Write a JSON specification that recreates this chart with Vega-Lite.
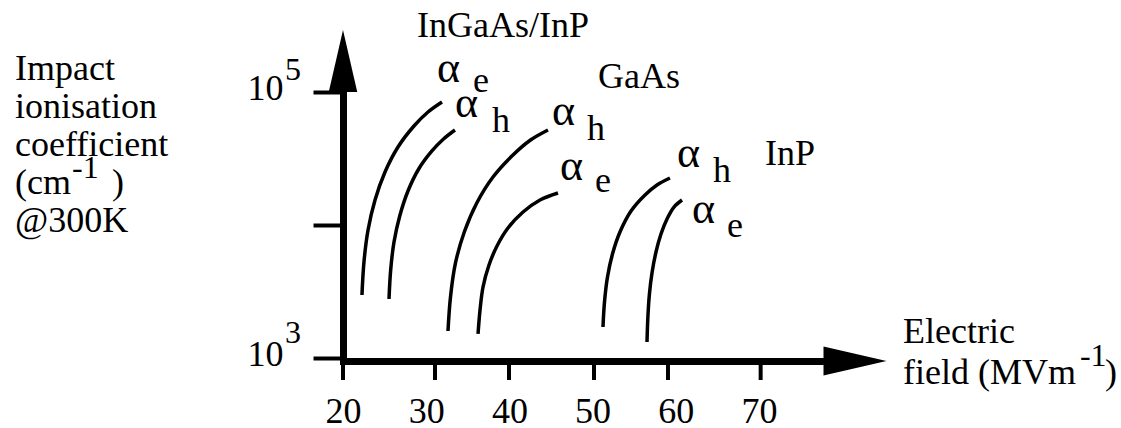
{
  "$schema": "https://vega.github.io/schema/vega-lite/v6.json",
  "autosize": {"type": "none"},
  "width": 512,
  "height": 300,
  "padding": {"left": 343, "top": 61, "right": 266, "bottom": 67},
  "background": "white",
  "config": {
    "font": "Liberation Serif",
    "view": {"stroke": null},
    "axis": {"grid": false}
  },
  "datasets": {
    "curves": [
      {"curve": "InGaAs αe", "x": 22.28, "y": 2977},
      {"curve": "InGaAs αe", "x": 22.52, "y": 5270},
      {"curve": "InGaAs αe", "x": 23.01, "y": 9170},
      {"curve": "InGaAs αe", "x": 23.85, "y": 15420},
      {"curve": "InGaAs αe", "x": 25.05, "y": 25030},
      {"curve": "InGaAs αe", "x": 26.61, "y": 38590},
      {"curve": "InGaAs αe", "x": 28.53, "y": 55510},
      {"curve": "InGaAs αe", "x": 30.22, "y": 70730},
      {"curve": "InGaAs αe", "x": 31.90, "y": 84090},
      {"curve": "InGaAs αh", "x": 25.53, "y": 2777},
      {"curve": "InGaAs αh", "x": 25.73, "y": 4588},
      {"curve": "InGaAs αh", "x": 26.13, "y": 7452},
      {"curve": "InGaAs αh", "x": 26.82, "y": 11690},
      {"curve": "InGaAs αh", "x": 27.81, "y": 18010},
      {"curve": "InGaAs αh", "x": 29.10, "y": 26370},
      {"curve": "InGaAs αh", "x": 30.69, "y": 36010},
      {"curve": "InGaAs αh", "x": 32.08, "y": 44320},
      {"curve": "InGaAs αh", "x": 33.46, "y": 51810},
      {"curve": "GaAs αh", "x": 32.62, "y": 1596},
      {"curve": "GaAs αh", "x": 32.92, "y": 2875},
      {"curve": "GaAs αh", "x": 33.52, "y": 5181},
      {"curve": "GaAs αh", "x": 34.58, "y": 8858},
      {"curve": "GaAs αh", "x": 36.08, "y": 14640},
      {"curve": "GaAs αh", "x": 38.03, "y": 22960},
      {"curve": "GaAs αh", "x": 40.43, "y": 33600},
      {"curve": "GaAs αh", "x": 42.54, "y": 43560},
      {"curve": "GaAs αh", "x": 44.64, "y": 51810},
      {"curve": "GaAs αe", "x": 36.23, "y": 1515},
      {"curve": "GaAs αe", "x": 36.47, "y": 2296},
      {"curve": "GaAs αe", "x": 36.83, "y": 3418},
      {"curve": "GaAs αe", "x": 37.55, "y": 5002},
      {"curve": "GaAs αe", "x": 38.51, "y": 6953},
      {"curve": "GaAs αe", "x": 39.83, "y": 9493},
      {"curve": "GaAs αe", "x": 41.64, "y": 12520},
      {"curve": "GaAs αe", "x": 43.68, "y": 15420},
      {"curve": "GaAs αe", "x": 45.84, "y": 17400},
      {"curve": "InP αh", "x": 51.25, "y": 1711},
      {"curve": "InP αh", "x": 51.43, "y": 2637},
      {"curve": "InP αh", "x": 51.79, "y": 4064},
      {"curve": "InP αh", "x": 52.39, "y": 6053},
      {"curve": "InP αh", "x": 53.29, "y": 8858},
      {"curve": "InP αh", "x": 54.62, "y": 12740},
      {"curve": "InP αh", "x": 56.30, "y": 16810},
      {"curve": "InP αh", "x": 57.74, "y": 19990},
      {"curve": "InP αh", "x": 59.30, "y": 22560},
      {"curve": "InP αe", "x": 56.54, "y": 1319},
      {"curve": "InP αe", "x": 56.64, "y": 1999},
      {"curve": "InP αe", "x": 56.82, "y": 2977},
      {"curve": "InP αe", "x": 57.14, "y": 4357},
      {"curve": "InP αe", "x": 57.62, "y": 6266},
      {"curve": "InP αe", "x": 58.22, "y": 8557},
      {"curve": "InP αe", "x": 59.00, "y": 11290},
      {"curve": "InP αe", "x": 59.78, "y": 13650},
      {"curve": "InP αe", "x": 60.75, "y": 15420}
    ],
    "labels": [
      {"kind": "text", "text": "Impact", "x": -19.42, "y": 123100},
      {"kind": "text", "text": "ionisation", "x": -19.42, "y": 63760},
      {"kind": "text", "text": "coefficient", "x": -19.42, "y": 33020},
      {"kind": "text", "text": "(cm", "x": -19.42, "y": 17110},
      {"kind": "sup", "text": "-1", "x": -12.57, "y": 22560},
      {"kind": "text", "text": ")", "x": -7.76, "y": 17110},
      {"kind": "text", "text": "@300K", "x": -19.42, "y": 8858},
      {"kind": "sup", "text": "5", "x": 13.03, "y": 123100},
      {"kind": "sup", "text": "3", "x": 13.03, "y": 1297},
      {"kind": "text", "text": "InGaAs/InP", "x": 28.89, "y": 259100},
      {"kind": "text", "text": "GaAs", "x": 50.65, "y": 107200},
      {"kind": "text", "text": "InP", "x": 70.72, "y": 28260},
      {"kind": "text", "text": "Electric", "x": 87.31, "y": 1297},
      {"kind": "text", "text": "field (MVm", "x": 87.31, "y": 637.6},
      {"kind": "sup", "text": "-1", "x": 108.58, "y": 870.6},
      {"kind": "text", "text": ")", "x": 111.59, "y": 637.6},
      {"kind": "alpha", "text": "α", "x": 31.30, "y": 118900},
      {"kind": "sub", "text": "e", "x": 35.63, "y": 100000},
      {"kind": "alpha", "text": "α", "x": 33.46, "y": 64870},
      {"kind": "sub", "text": "h", "x": 37.91, "y": 50040},
      {"kind": "alpha", "text": "α", "x": 45.12, "y": 56480},
      {"kind": "sub", "text": "h", "x": 49.33, "y": 43560},
      {"kind": "alpha", "text": "α", "x": 46.08, "y": 21790},
      {"kind": "sub", "text": "e", "x": 50.29, "y": 17710},
      {"kind": "alpha", "text": "α", "x": 60.14, "y": 27300},
      {"kind": "sub", "text": "h", "x": 64.47, "y": 21050},
      {"kind": "alpha", "text": "α", "x": 61.95, "y": 10350},
      {"kind": "sub", "text": "e", "x": 66.15, "y": 8125}
    ],
    "xticks": [
      {"x": 20.0},
      {"x": 31.06},
      {"x": 39.95},
      {"x": 50.17},
      {"x": 59.06},
      {"x": 70.2}
    ],
    "arrows": [
      {"dir": "right", "x": 81.54, "y": 949},
      {"dir": "up", "x": 20, "y": 171000}
    ]
  },
  "encoding": {
    "x": {
      "field": "x",
      "type": "quantitative",
      "scale": {"domain": [20, 81.54], "nice": false, "zero": false},
      "axis": {
        "title": null,
        "values": [20, 30, 40, 50, 60, 70],
        "domainColor": "black",
        "domainWidth": 7,
        "domainCap": "square",
        "ticks": false,
        "labelFontSize": 36,
        "labelFont": "Liberation Serif",
        "labelColor": "black",
        "labelBaseline": "alphabetic",
        "labelPadding": 61,
        "labelFlush": false,
        "labelOverlap": false,
        "labelBound": false
      }
    }
  },
  "layer": [
    {
      "data": {"name": "curves"},
      "mark": {"type": "line", "interpolate": "catmull-rom", "color": "black", "strokeWidth": 3.5},
      "encoding": {
        "y": {
          "field": "y",
          "type": "quantitative",
          "scale": {"type": "log", "domain": [949, 171000], "nice": false},
          "axis": {
            "title": null,
            "values": [1000, 10000, 100000],
            "labelExpr": "datum.value == 10000 ? '' : '10'",
            "domainColor": "black",
            "domainWidth": 7,
            "domainCap": "square",
            "tickColor": "black",
            "tickWidth": 4,
            "tickSize": 30,
            "labelFontSize": 36,
            "labelFont": "Liberation Serif",
            "labelColor": "black",
            "labelBaseline": "alphabetic",
            "labelOffset": 8,
            "labelPadding": 30,
            "labelFlush": false,
            "labelOverlap": false,
            "labelBound": false
          }
        },
        "detail": {"field": "curve"}
      }
    },
    {
      "data": {"name": "xticks"},
      "mark": {"type": "rule", "color": "black", "strokeWidth": 4},
      "encoding": {
        "y": {"datum": 949, "type": "quantitative", "scale": {"type": "log", "domain": [949, 171000], "nice": false}},
        "y2": {"datum": 683}
      }
    },
    {
      "data": {"name": "labels"},
      "transform": [{"filter": "datum.kind == 'text'"}],
      "mark": {"type": "text", "fontSize": 36, "align": "left", "baseline": "alphabetic", "color": "black"},
      "encoding": {
        "y": {"field": "y", "type": "quantitative", "scale": {"type": "log", "domain": [949, 171000], "nice": false}},
        "text": {"field": "text"}
      }
    },
    {
      "data": {"name": "labels"},
      "transform": [{"filter": "datum.kind == 'sup'"}],
      "mark": {"type": "text", "fontSize": 32, "align": "left", "baseline": "alphabetic", "color": "black"},
      "encoding": {
        "y": {"field": "y", "type": "quantitative", "scale": {"type": "log", "domain": [949, 171000], "nice": false}},
        "text": {"field": "text"}
      }
    },
    {
      "data": {"name": "labels"},
      "transform": [{"filter": "datum.kind == 'alpha'"}],
      "mark": {"type": "text", "fontSize": 44, "align": "left", "baseline": "alphabetic", "color": "black"},
      "encoding": {
        "y": {"field": "y", "type": "quantitative", "scale": {"type": "log", "domain": [949, 171000], "nice": false}},
        "text": {"field": "text"}
      }
    },
    {
      "data": {"name": "labels"},
      "transform": [{"filter": "datum.kind == 'sub'"}],
      "mark": {"type": "text", "fontSize": 36, "align": "left", "baseline": "alphabetic", "color": "black"},
      "encoding": {
        "y": {"field": "y", "type": "quantitative", "scale": {"type": "log", "domain": [949, 171000], "nice": false}},
        "text": {"field": "text"}
      }
    },
    {
      "data": {"name": "arrows"},
      "transform": [{"filter": "datum.dir == 'right'"}],
      "mark": {"type": "point", "shape": "M1,0L-1,-0.46L-1,0.46Z", "size": 3969, "filled": true, "fill": "black", "fillOpacity": 1, "opacity": 1, "strokeWidth": 0},
      "encoding": {
        "y": {"field": "y", "type": "quantitative", "scale": {"type": "log", "domain": [949, 171000], "nice": false}}
      }
    },
    {
      "data": {"name": "arrows"},
      "transform": [{"filter": "datum.dir == 'up'"}],
      "mark": {"type": "point", "shape": "M0,-1L-0.46,1L0.46,1Z", "size": 3844, "filled": true, "fill": "black", "fillOpacity": 1, "opacity": 1, "strokeWidth": 0},
      "encoding": {
        "y": {"field": "y", "type": "quantitative", "scale": {"type": "log", "domain": [949, 171000], "nice": false}}
      }
    }
  ]
}
